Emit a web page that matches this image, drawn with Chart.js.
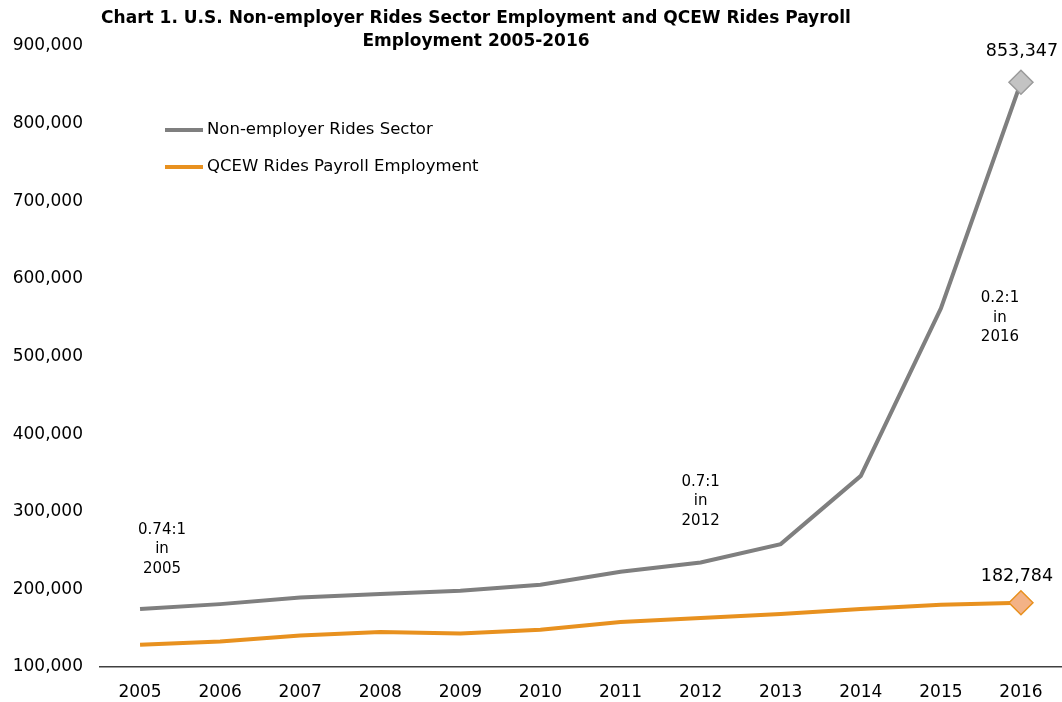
<!DOCTYPE html>
<html>
<head>
<meta charset="utf-8">
<script src="https://cdn.jsdelivr.net/npm/chart.js@4"></script>
<style>
  html, body { margin: 0; padding: 0; background: #fff; overflow: hidden; }
  #wrap { width: 1062px; height: 702px; position: relative; }
  #ridesChart { display: block; }
</style>
</head>
<body>
<div id="wrap"><canvas id="ridesChart"></canvas></div>
<script>
// Rides sector employment, 2005-2016
var years = ['2005', '2006', '2007', '2008', '2009', '2010', '2011', '2012', '2013', '2014', '2015', '2016'];
var nonEmployer = [174600, 181000, 189600, 194000, 198200, 206000, 222600, 234600, 258300, 346200, 562000, 853347];
var qcewPayroll = [128700, 133000, 140700, 145000, 143300, 148000, 158000, 163000, 168200, 174600, 180200, 182784];
var seriesNames = ['Non-employer Rides Sector', 'QCEW Rides Payroll Employment'];
var yTicks = [100000, 200000, 300000, 400000, 500000, 600000, 700000, 800000, 900000];
var titleLines = ['Chart 1. U.S. Non-employer Rides Sector Employment and QCEW Rides Payroll', 'Employment 2005-2016'];
var ratioNotes = [
    ['0.74:1', 'in', '2005'],
    ['0.7:1', 'in', '2012'],
    ['0.2:1', 'in', '2016']
];

var FONT = '"DejaVu Sans", "Noto Sans", sans-serif';
var GREY = '#7f7f7f';
var ORANGE = '#e8911f';

function fmt(v) {
    return Number(v).toLocaleString('en-US');
}

// only the last point of each line gets a diamond marker
function lastOnly(val) {
    return years.map(function(y, i) { return i === years.length - 1 ? val : 0; });
}

// title, legend, ratio notes and end value labels
var extrasPlugin = {
    id: 'extras',
    afterDatasetsDraw: function(chart, args, opts) {
        var ctx = chart.ctx;
        var x = chart.scales.x, y = chart.scales.y;
        ctx.save();

        // title
        ctx.fillStyle = '#000';
        ctx.textAlign = 'center';
        ctx.textBaseline = 'middle';
        ctx.font = 'bold 17px ' + FONT;
        titleLines.forEach(function(t, i) {
            ctx.fillText(t, 476, 19 + i * 23);
        });

        // legend
        ctx.font = '16.5px ' + FONT;
        ctx.textAlign = 'left';
        chart.data.datasets.forEach(function(ds, i) {
            var ly = 130 + i * 37;
            ctx.strokeStyle = ds.borderColor;
            ctx.lineWidth = 4;
            ctx.beginPath();
            ctx.moveTo(165, ly);
            ctx.lineTo(203, ly);
            ctx.stroke();
            ctx.fillStyle = '#000';
            ctx.fillText(ds.label, 207, ly);
        });

        // ratio notes
        ctx.textAlign = 'center';
        ctx.font = '15px ' + FONT;
        opts.notes.forEach(function(n, i) {
            var nx = x.getPixelForValue(years.indexOf(n.at)) + n.dx;
            var ny = y.getPixelForValue(n.y);
            ratioNotes[i].forEach(function(line, j) {
                ctx.fillText(line, nx, ny + j * 19.5);
            });
        });

        // value labels at the last points
        ctx.font = '17.5px ' + FONT;
        chart.data.datasets.forEach(function(ds, i) {
            var meta = chart.getDatasetMeta(i);
            var last = ds.data.length - 1;
            var pt = meta.data[last];
            ctx.fillText(fmt(ds.data[last]), pt.x + opts.valueDx[i], pt.y + opts.valueDy[i]);
        });

        ctx.restore();
    }
};

var ridesChart = new Chart(document.getElementById('ridesChart'), {
    type: 'line',
    data: {
        labels: years,
        datasets: [{
            label: seriesNames[0],
            data: nonEmployer,
            borderColor: GREY,
            borderWidth: 4,
            pointStyle: 'rectRot',
            pointRadius: lastOnly(12),
            pointBackgroundColor: '#c3c3c3',
            pointBorderColor: '#9b9b9b',
            pointBorderWidth: 1.5,
            tension: 0
        }, {
            label: seriesNames[1],
            data: qcewPayroll,
            borderColor: ORANGE,
            borderWidth: 4,
            pointStyle: 'rectRot',
            pointRadius: lastOnly(12),
            pointBackgroundColor: '#f3b286',
            pointBorderColor: ORANGE,
            pointBorderWidth: 1.5,
            tension: 0
        }]
    },
    options: {
        responsive: true,
        maintainAspectRatio: false,
        animation: false,
        layout: {
            autoPadding: false,
            padding: { top: 46, right: 1, left: 0, bottom: 0 }
        },
        plugins: {
            legend: { display: false },
            tooltip: { enabled: false },
            title: { display: false },
            extras: {
                notes: [
                    { at: '2005', dx: 22, y: 276500 },
                    { at: '2012', dx: 0, y: 338500 },
                    { at: '2016', dx: -21, y: 575000 }
                ],
                valueDx: [1, -4],
                valueDy: [-31, -26]
            }
        },
        scales: {
            x: {
                offset: true,
                grid: { display: false, drawTicks: false },
                border: { display: true, color: '#404040', width: 1.5 },
                ticks: {
                    color: '#000',
                    padding: 15,
                    font: { family: FONT, size: 17 }
                },
                afterFit: function(scale) {
                    scale.height = 35;
                    // the end labels sit inside the offset bands, no extra room needed
                    scale.paddingLeft = 0;
                    scale.paddingRight = 0;
                }
            },
            y: {
                min: yTicks[0],
                max: yTicks[yTicks.length - 1],
                grid: { display: false, drawTicks: false },
                border: { display: false },
                afterBuildTicks: function(scale) {
                    scale.ticks = yTicks.map(function(v) { return { value: v }; });
                },
                ticks: {
                    color: '#000',
                    padding: 17,
                    font: { family: FONT, size: 17 },
                    callback: function(v) { return fmt(v); }
                },
                afterFit: function(scale) { scale.width = 100; }
            }
        }
    },
    plugins: [extrasPlugin]
});
</script>
</body>
</html>
